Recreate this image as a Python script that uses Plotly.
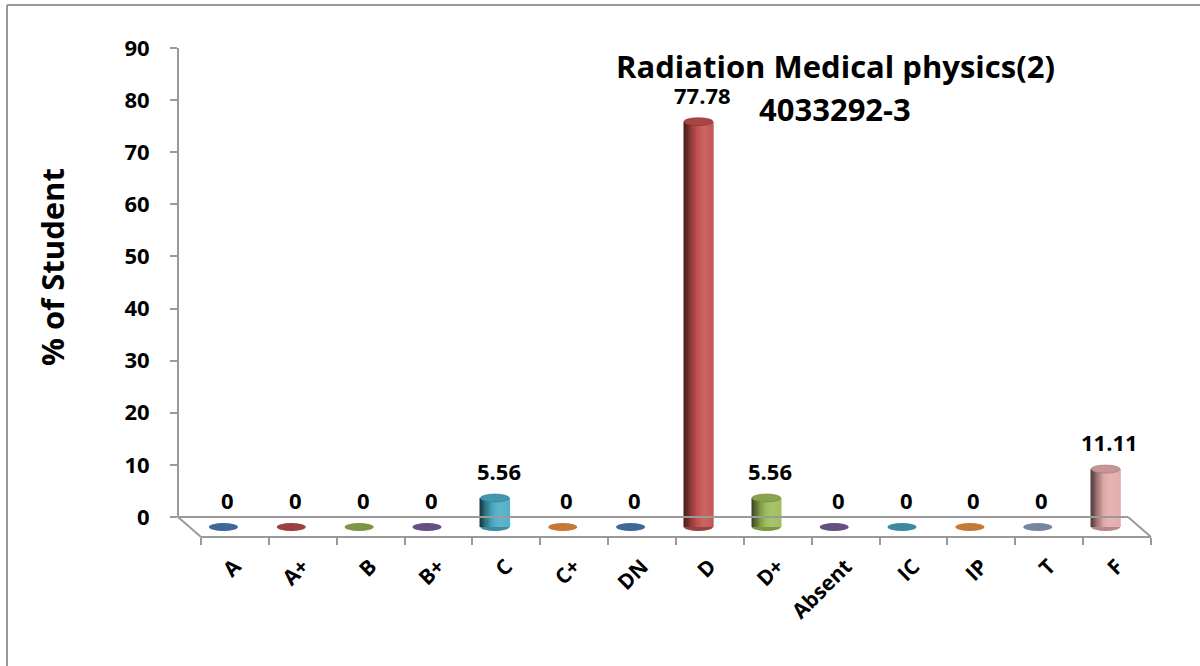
import math
import plotly.graph_objects as go

# chart values
grades = ['A', 'A+', 'B', 'B+', 'C', 'C+', 'DN', 'D', 'D+', 'Absent', 'IC', 'IP', 'T', 'F']
pct = [0, 0, 0, 0, 5.56, 0, 0, 77.78, 5.56, 0, 0, 0, 0, 11.11]
colors = ['#4F81BD', '#C0504D', '#9BBB59', '#8064A2', '#4BACC6', '#F79646', '#4F81BD',
          '#C0504D', '#9BBB59', '#8064A2', '#4BACC6', '#F79646', '#95A8C8', '#E2A9A8']
y_ticks = [0, 10, 20, 30, 40, 50, 60, 70, 80, 90]
title_1 = 'Radiation Medical physics(2)'
title_2 = '4033292-3'
y_title = '% of Student'

W, H = 1200, 666
FONT = 'Open Sans'
GRID = '#9a9a9a'

# pixel geometry of the fake 3d frame
AX_X = 178          # y axis / back left corner
BACK_Y = 517        # back floor edge (value 0 on the axis)
FRONT_Y = 537       # front floor edge
TOP_Y = 48          # value 90
DX = 23             # depth offset in x
BASE_Y = 527        # cylinder base (middle depth)
SLOT_W = 67.86
N_STRIPS = 24
BAR_W = 29 / SLOT_W


def px(x):
    return x / W


def py(y):
    return 1 - y / H


def shade(hexc, f):
    rgb = [int(hexc[i:i + 2], 16) for i in (1, 3, 5)]
    if f <= 1:
        rgb = [c * f for c in rgb]
    else:
        rgb = [c + (255 - c) * (f - 1) for c in rgb]
    return 'rgb(%d,%d,%d)' % tuple(min(255, round(c)) for c in rgb)


def cyl_light(t):
    # light falloff across a cylinder, t = 0 at left edge, 1 at right edge
    if t < 0.75:
        return 0.33 + 0.79 * math.sin(t / 0.75 * math.pi / 2)
    return 1.12 - 0.3 * (t - 0.75)


scale = (BACK_Y - TOP_Y) / 90.0
front_right = AX_X + DX + SLOT_W * len(grades)
back_right = AX_X + SLOT_W * len(grades)

fig = go.Figure()

# invisible trace so the front category axis knows its categories
fig.add_trace(go.Scatter(x=grades, y=pct, mode='markers', marker=dict(opacity=0),
                         hoverinfo='skip', showlegend=False, xaxis='x', yaxis='y'))

# cylinders drawn as shaded vertical strips
sw = BAR_W / N_STRIPS
for k in range(N_STRIPS):
    f = cyl_light((k + 0.5) / N_STRIPS)
    fig.add_trace(go.Bar(
        x=grades, y=pct, xaxis='x2', yaxis='y2',
        width=sw * 1.6, offset=-BAR_W / 2 + k * sw,
        marker=dict(color=[shade(c, f) for c in colors], line=dict(width=0)),
        hoverinfo='skip', showlegend=False))

shapes = []
hw = BAR_W / 2
hh = 4 / scale
for i, (v, c) in enumerate(zip(pct, colors)):
    # bottom ellipse
    shapes.append(dict(type='circle', xref='x2', yref='y2', layer='below',
                       x0=i - hw, x1=i + hw, y0=-hh, y1=hh,
                       fillcolor=shade(c, 0.8), line=dict(width=0)))
    if v > 0:
        shapes.append(dict(type='circle', xref='x2', yref='y2', layer='above',
                           x0=i - hw, x1=i + hw, y0=v - hh, y1=v + hh,
                           fillcolor=shade(c, 0.88), line=dict(width=0.6, color=shade(c, 0.7))))

# floor
floor = [
    (AX_X, BACK_Y, back_right, BACK_Y),
    (AX_X, BACK_Y, AX_X + DX, FRONT_Y),
    (back_right, BACK_Y, front_right, FRONT_Y),
]
for x0, y0, x1, y1 in floor:
    shapes.append(dict(type='line', xref='paper', yref='paper',
                       x0=px(x0), y0=py(y0), x1=px(x1), y1=py(y1),
                       line=dict(color=GRID, width=2)))

# outer chart border (only left and top are inside the picture)
shapes.append(dict(type='line', xref='paper', yref='paper', x0=px(7), y0=py(5), x1=px(7), y1=0,
                   line=dict(color=GRID, width=2)))
shapes.append(dict(type='line', xref='paper', yref='paper', x0=px(7), y0=py(5), x1=1, y1=py(5),
                   line=dict(color=GRID, width=2)))

annotations = []
for g, v in zip(grades, pct):
    annotations.append(dict(x=g, y=v, xref='x2', yref='y2', text='%g' % v,
                            showarrow=False, yanchor='bottom', yshift=10, xshift=4,
                            font=dict(family=FONT, size=22, color='black', weight='bold')))

annotations.append(dict(x=px(835), y=py(66), xref='paper', yref='paper', text=title_1,
                        showarrow=False, xanchor='center', yanchor='middle',
                        font=dict(family=FONT, size=31, color='black', weight='bold')))
annotations.append(dict(x=px(835), y=py(109), xref='paper', yref='paper', text=title_2,
                        showarrow=False, xanchor='center', yanchor='middle',
                        font=dict(family=FONT, size=31, color='black', weight='bold')))
annotations.append(dict(x=px(52), y=py(267), xref='paper', yref='paper', text=y_title,
                        showarrow=False, textangle=-90, xanchor='center', yanchor='middle',
                        font=dict(family=FONT, size=31, color='black', weight='bold')))

fig.update_layout(
    width=W, height=H,
    margin=dict(l=0, r=0, t=0, b=0),
    paper_bgcolor='white', plot_bgcolor='rgba(0,0,0,0)',
    barmode='overlay', showlegend=False,
    shapes=shapes, annotations=annotations,
    xaxis=dict(
        type='category', categoryorder='array', categoryarray=grades,
        domain=[px(AX_X + DX), px(front_right)], range=[-0.5, len(grades) - 0.5],
        anchor='free', position=py(FRONT_Y), automargin=False,
        showline=True, linecolor=GRID, linewidth=2,
        ticks='outside', tickson='boundaries', ticklen=7, tickcolor=GRID, tickwidth=2,
        tickangle=-45, ticklabelstandoff=8, showgrid=False, zeroline=False,
        tickfont=dict(family=FONT, size=21, color='black', weight='bold'),
    ),
    yaxis=dict(
        domain=[py(BACK_Y), py(TOP_Y)], range=[0, 90],
        anchor='free', position=px(AX_X), automargin=False,
        tickvals=y_ticks, showline=True, linecolor=GRID, linewidth=2,
        ticks='outside', ticklen=7, tickcolor=GRID, tickwidth=2,
        ticklabelstandoff=16, showgrid=False, zeroline=False,
        tickfont=dict(family=FONT, size=22, color='black', weight='bold'),
    ),
    xaxis2=dict(
        type='category', categoryorder='array', categoryarray=grades,
        domain=[px(AX_X + DX / 2), px(back_right + DX / 2)], range=[-0.5, len(grades) - 0.5],
        anchor='y2', visible=False, automargin=False,
    ),
    yaxis2=dict(
        domain=[0, 1], range=[-(H - BASE_Y) / scale, BASE_Y / scale],
        anchor='x2', visible=False, automargin=False,
    ),
)

fig.write_html("out.html", config={'displayModeBar': False},
               post_script="document.body.style.margin='0';")
